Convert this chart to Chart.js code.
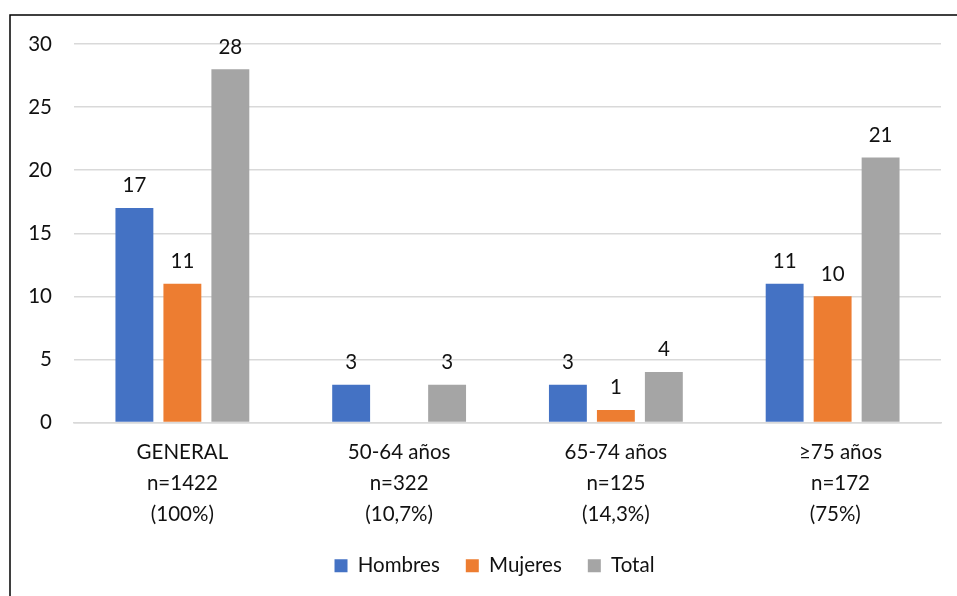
<!DOCTYPE html>
<html>
<head>
<meta charset="utf-8">
<script src="https://cdn.jsdelivr.net/npm/chart.js@4"></script>
<style>
    html, body { margin: 0; padding: 0; background: #fff; }
    #wrap { width: 957px; height: 596px; position: relative; }
</style>
</head>
<body>
<div id="wrap"><canvas id="chart"></canvas></div>
<script>
// Data
const categories = [
    ['GENERAL', 'n=1422', '(100%)'],
    ['50-64 años', 'n=322', '(10,7%)'],
    ['65-74 años', 'n=125', '(14,3%)'],
    ['   ≥75 años', '   n=172', ' (75%)']
];
const hombres = [17, 3, 3, 11];
const mujeres = [11, null, 1, 10];
const total = [28, 3, 4, 21];
const seriesNames = ['Hombres', 'Mujeres', 'Total'];
const seriesColors = ['#4472C4', '#ED7D31', '#A5A5A5'];

const FONT = 'Lato, "Open Sans", sans-serif';
const FSIZE = 20.5;

// Outer frame of the chart
const framePlugin = {
    id: 'frame',
    afterDraw(chart) {
        const ctx = chart.ctx;
        ctx.save();
        ctx.strokeStyle = '#000';
        ctx.lineWidth = 1.5;
        ctx.beginPath();
        ctx.moveTo(10, 600);
        ctx.lineTo(10, 15);
        ctx.lineTo(960, 15);
        ctx.stroke();
        ctx.restore();
    }
};

// Legend sits a bit right of centre in the original
const legendShift = {
    id: 'legendShift',
    afterLayout(chart) {
        if (chart.legend) {
            chart.legend.left += 24;
            chart.legend.right += 24;
        }
    }
};

// Value labels above bars
const valueLabels = {
    id: 'valueLabels',
    afterDatasetsDraw(chart) {
        const ctx = chart.ctx;
        ctx.save();
        ctx.font = FSIZE + 'px ' + FONT;
        ctx.fillStyle = '#111';
        ctx.textAlign = 'center';
        ctx.textBaseline = 'bottom';
        chart.data.datasets.forEach((ds, i) => {
            chart.getDatasetMeta(i).data.forEach((bar, j) => {
                const v = ds.data[j];
                if (v === null || v === undefined) return;
                ctx.fillText(String(v), bar.x, bar.y - 12);
            });
        });
        ctx.restore();
    }
};

new Chart(document.getElementById('chart'), {
    type: 'bar',
    data: {
        labels: categories,
        datasets: [
            { label: seriesNames[0], data: hombres, backgroundColor: seriesColors[0] },
            { label: seriesNames[1], data: mujeres, backgroundColor: seriesColors[1] },
            { label: seriesNames[2], data: total, backgroundColor: seriesColors[2] }
        ]
    },
    options: {
        responsive: true,
        maintainAspectRatio: false,
        animation: false,
        categoryPercentage: 0.664,
        barPercentage: 0.79,
        layout: { padding: { left: 0, right: 16, top: 44, bottom: 10 } },
        plugins: {
            legend: {
                position: 'bottom',
                labels: {
                    boxWidth: 13,
                    boxHeight: 13,
                    padding: 26,
                    color: '#111',
                    font: { family: FONT, size: FSIZE }
                }
            },
            tooltip: { enabled: false }
        },
        scales: {
            x: {
                grid: { display: false, drawTicks: false },
                border: { display: true, color: '#D9D9D9', width: 1.5 },
                ticks: {
                    color: '#111',
                    padding: 15,
                    maxRotation: 0,
                    font: { family: FONT, size: FSIZE, lineHeight: 1.5 }
                },
                afterFit(scale) { scale.height = 107; }
            },
            y: {
                min: 0,
                max: 30,
                grid: { color: '#D9D9D9', lineWidth: 1.5, drawTicks: false },
                border: { display: false },
                ticks: {
                    stepSize: 5,
                    color: '#111',
                    padding: 22,
                    font: { family: FONT, size: FSIZE }
                },
                afterFit(scale) { scale.width = 74; }
            }
        }
    },
    plugins: [framePlugin, legendShift, valueLabels]
});
</script>
</body>
</html>
